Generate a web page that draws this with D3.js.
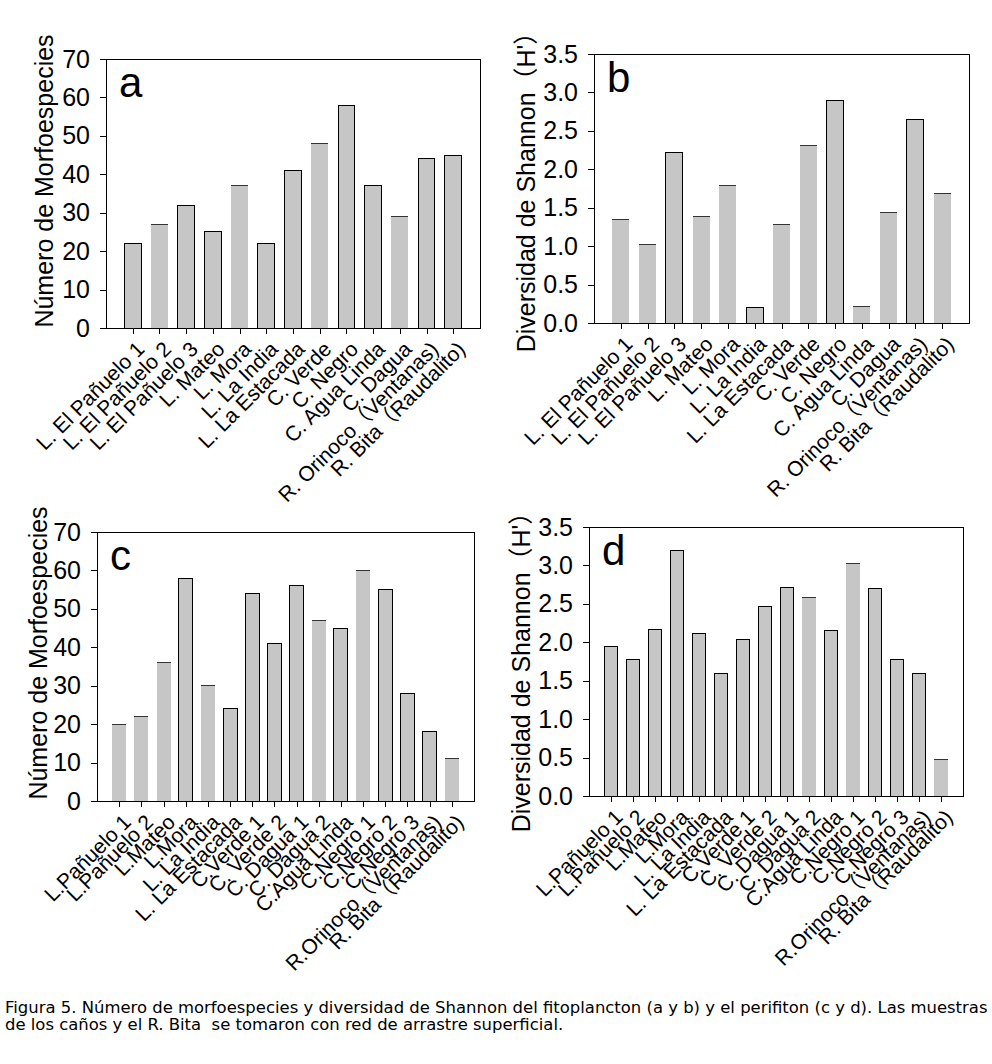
<!DOCTYPE html>
<html>
<head>
<meta charset="utf-8">
<script src="https://cdn.jsdelivr.net/npm/d3@7"></script>
<style>
  body { margin: 0; background: #fff; }
  svg text { font-family: "Liberation Sans", Arial, "Noto Sans CJK SC", sans-serif; fill: #000; }
  svg .caption { font-family: "DejaVu Sans", Verdana, sans-serif; font-size: 15px; white-space: pre; }
</style>
</head>
<body>
<div id="figureDiv"></div>
<script>
// sites sampled for phytoplankton (a, b)
const planktonSites = ['L. El Pañuelo 1', 'L. El Pañuelo 2', 'L. El Pañuelo 3', 'L. Mateo', 'L. Mora',
  'L. La India', 'L. La Estacada', 'C. Verde', 'C. Negro', 'C. Agua Linda', 'C. Dagua',
  'R. Orinoco（Ventanas)', 'R. Bita（Raudalito)'];
// sites sampled for periphyton (c, d)
const perifitonSites = ['L.Pañuelo 1', 'L.Pañuelo 2', 'L.Mateo', 'L.Mora', 'L. La India', 'L. La Estacada',
  'C.Verde 1', 'C. Verde 2', 'C. Dagua 1', 'C. Dagua 2', 'C.Agua Linda', 'C.Negro 1', 'C.Negro 2',
  'C.Negro 3', 'R.Orinoco（Ventanas)', 'R. Bita（Raudalito)'];

const planktonSpecies = [22, 27, 32, 25, 37, 22, 41, 48, 58, 37, 29, 44, 45];
const planktonShannon = [1.35, 1.02, 2.22, 1.38, 1.79, 0.20, 1.28, 2.31, 2.90, 0.21, 1.44, 2.65, 1.69];
const perifitonSpecies = [20, 22, 36, 58, 30, 24, 54, 41, 56, 47, 45, 60, 55, 28, 18, 11];
const perifitonShannon = [1.94, 1.78, 2.16, 3.19, 2.11, 1.60, 2.03, 2.46, 2.71, 2.58, 2.15, 3.02, 2.70, 1.77, 1.59, 0.48];

const speciesTicks = [0, 10, 20, 30, 40, 50, 60, 70];
const shannonTicks = [0, 0.5, 1.0, 1.5, 2.0, 2.5, 3.0, 3.5];

const speciesTitle = 'Número de Morfoespecies';
const shannonTitle = 'Diversidad de Shannon（H\'）';

const captionLines = [
  'Figura 5. Número de morfoespecies y diversidad de Shannon del fitoplancton (a y b) y el perifiton (c y d). Las muestras',
  'de los caños y el R. Bita  se tomaron con red de arrastre superficial.'
];

// which bars keep their full black outline in the print (others only show the top edge)
const outlinedBars = {
  a: [0, 2, 3, 5, 6, 8, 9, 11, 12],
  b: [2, 5, 8, 11],
  c: [3, 5, 6, 7, 8, 10, 12, 13, 14],
  d: [0, 1, 2, 3, 4, 5, 6, 7, 8, 10, 12, 13, 14]
};

class BarPanel {
  constructor(svg, config) {
    this.svg = svg;
    this.config = config;

    this.xScale = d3.scalePoint()
      .domain(d3.range(config.sites.length))
      .range([config.left, config.right])
      .padding(1);

    this.yScale = d3.scaleLinear()
      .domain([0, d3.max(config.ticks)])
      .range([config.bottom, config.top]);

    this.barWidth = this.xScale.step() * 0.63;
  }

  /**
   * Draws the whole panel.
   */
  draw() {
    this.group = this.svg.append('g')
      .attr('id', 'panel-' + this.config.letter);

    this.createBars();
    this.createFrame();
    this.createAxes();
    this.createTitles();
  }

  createBars() {
    let outlined = this.config.outlined;
    let bars = this.group.append('g');

    bars.selectAll('rect')
      .data(this.config.values)
      .enter()
      .append('rect')
      .attr('x', (d, i) => this.xScale(i) - this.barWidth / 2)
      .attr('y', d => this.yScale(d))
      .attr('width', this.barWidth)
      .attr('height', d => this.yScale(0) - this.yScale(d))
      .attr('fill', '#c6c6c6')
      .attr('stroke', (d, i) => outlined.includes(i) ? '#000' : 'none')
      .attr('stroke-width', 1)
      .attr('shape-rendering', 'crispEdges');

    // top edge for the lighter bars
    bars.selectAll('line')
      .data(this.config.values.map((d, i) => [d, i]).filter(p => !outlined.includes(p[1])))
      .enter()
      .append('line')
      .attr('x1', p => this.xScale(p[1]) - this.barWidth / 2)
      .attr('x2', p => this.xScale(p[1]) + this.barWidth / 2)
      .attr('y1', p => this.yScale(p[0]))
      .attr('y2', p => this.yScale(p[0]))
      .attr('stroke', '#333')
      .attr('stroke-width', 1)
      .attr('shape-rendering', 'crispEdges');
  }

  createFrame() {
    let c = this.config;
    this.group.append('rect')
      .attr('x', c.left)
      .attr('y', c.top)
      .attr('width', c.right - c.left)
      .attr('height', c.bottom - c.top)
      .attr('fill', 'none')
      .attr('stroke', '#000')
      .attr('stroke-width', 1)
      .attr('shape-rendering', 'crispEdges');
  }

  createAxes() {
    let c = this.config;

    let yAxis = d3.axisLeft(this.yScale)
      .tickValues(c.ticks)
      .tickSize(6)
      .tickPadding(10)
      .tickFormat(c.tickFormat);

    let yGroup = this.group.append('g')
      .attr('transform', `translate(${c.left}, 0)`)
      .call(yAxis);

    let xAxis = d3.axisBottom(this.xScale)
      .tickSize(6)
      .tickFormat(i => c.sites[i]);

    let xGroup = this.group.append('g')
      .attr('transform', `translate(0, ${c.bottom})`)
      .call(xAxis);

    [yGroup, xGroup].forEach(g => {
      g.select('.domain').remove();
      g.attr('font-family', null).attr('font-size', null);
      g.selectAll('line').attr('shape-rendering', 'crispEdges');
    });

    yGroup.selectAll('text')
      .style('font-size', '25px');

    xGroup.selectAll('text')
      .style('font-size', '21px')
      .style('text-anchor', 'end')
      .attr('x', 0)
      .attr('y', 0)
      .attr('dy', '0.71em')
      .attr('transform', 'translate(2, 12) rotate(-45)');
  }

  createTitles() {
    let c = this.config;

    this.group.append('text')
      .attr('transform', `translate(${c.titleX}, ${c.titleY}) rotate(-90)`)
      .attr('text-anchor', 'middle')
      .style('font-size', '25px')
      .text(c.title);

    this.group.append('text')
      .attr('x', c.left + 13)
      .attr('y', c.top + 38)
      .style('font-size', '42px')
      .text(c.letter);
  }
}

let svg = d3.select('#figureDiv').append('svg')
  .attr('width', 992)
  .attr('height', 1064);

svg.append('rect')
  .attr('width', 992)
  .attr('height', 1064)
  .attr('fill', '#fff');

let panels = [
  { letter: 'a', sites: planktonSites, values: planktonSpecies, ticks: speciesTicks,
    tickFormat: d3.format('d'), title: speciesTitle, outlined: outlinedBars.a,
    left: 106, right: 480, top: 59, bottom: 328, titleX: 53, titleY: 181 },
  { letter: 'b', sites: planktonSites, values: planktonShannon, ticks: shannonTicks,
    tickFormat: d3.format('.1f'), title: shannonTitle, outlined: outlinedBars.b,
    left: 594, right: 969, top: 54, bottom: 323, titleX: 535, titleY: 186 },
  { letter: 'c', sites: perifitonSites, values: perifitonSpecies, ticks: speciesTicks,
    tickFormat: d3.format('d'), title: speciesTitle, outlined: outlinedBars.c,
    left: 97, right: 474, top: 532, bottom: 801, titleX: 47, titleY: 653 },
  { letter: 'd', sites: perifitonSites, values: perifitonShannon, ticks: shannonTicks,
    tickFormat: d3.format('.1f'), title: shannonTitle, outlined: outlinedBars.d,
    left: 589, right: 963, top: 527, bottom: 796, titleX: 530, titleY: 666 }
];

panels.forEach(p => new BarPanel(svg, p).draw());

// caption, stretched so the first line runs across the figure like in the print
let caption = svg.append('g');

caption.selectAll('text')
  .data(captionLines)
  .enter()
  .append('text')
  .attr('class', 'caption')
  .attr('x', 0)
  .attr('y', (d, i) => 1013 + i * 17)
  .text(d => d);

let firstLine = caption.select('text').node().getComputedTextLength();
caption.attr('transform', `translate(5, 0) scale(${983 / firstLine}, 1)`);
</script>
</body>
</html>
